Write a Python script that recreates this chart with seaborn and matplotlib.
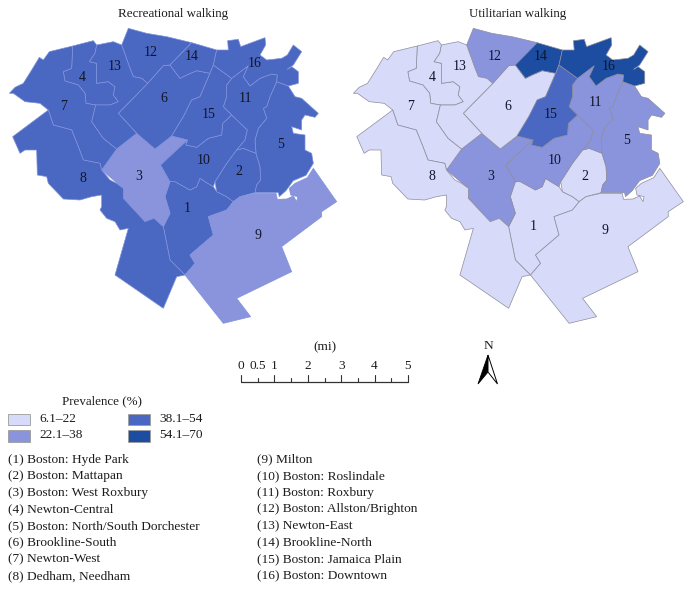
import numpy as np
import matplotlib
matplotlib.use("Agg")
import matplotlib.pyplot as plt
from matplotlib.patches import Polygon, Rectangle
import seaborn as sns

# ─────────────────────────────────────────────
# DATA
# ─────────────────────────────────────────────
# neighbourhood outlines (3x scale)
R1 = [(510,545),(525,545),(570,570),(590,560),(600,535),(615,545),(640,560),(650,575),(680,590),(700,605),(680,630),(625,650),(640,705),(570,765),(585,790),(555,825),(510,780),(490,680),(510,640),(495,590)]
R2 = [(710,450),(730,445),(768,460),(780,500),(782,540),(770,555),(765,578),(720,590),(700,605),(680,590),(650,575),(645,545),(680,490)]
R3 = [(410,400),(465,447),(515,408),(563,420),(530,450),(482,495),(510,545),(495,590),(510,640),(490,680),(462,655),(435,665),(370,595),(370,565),(305,510),(350,447)]
R4 = [(218,138),(280,122),(290,135),(285,160),(268,185),(290,190),(290,250),(325,245),(345,260),(340,285),(355,305),(330,315),(287,315),(258,310),(255,280),(235,255),(195,243),(190,215),(215,205)]
R5 = [(830,245),(810,290),(800,320),(790,325),(800,355),(775,385),(765,420),(768,460),(780,500),(782,540),(770,555),(765,578),(835,578),(838,590),(858,572),(880,542),(918,526),(940,490),(935,460),(915,450),(915,405),(880,400),(875,380),(905,390),(905,360),(915,345),(945,352),(955,340),(905,295),(885,290),(865,258)]
R6 = [(510,195),(540,235),(560,225),(590,212),(630,220),(600,290),(575,300),(550,350),(515,408),(465,447),(410,400),(355,340),(443,250),(490,197)]
R7 = [(28,280),(45,262),(70,250),(95,210),(118,172),(130,180),(148,155),(218,138),(215,205),(190,215),(195,243),(235,255),(255,280),(258,310),(287,315),(275,365),(310,415),(350,447),(305,510),(300,490),(250,480),(235,440),(215,390),(160,375),(145,330),(120,310),(75,305),(40,280)]
R8 = [(145,330),(38,410),(60,460),(75,450),(110,450),(112,525),(140,530),(145,550),(190,597),(240,600),(275,590),(305,585),(305,620),(300,630),(320,655),(345,665),(360,690),(385,685),(345,825),(490,925),(530,830),(555,825),(510,780),(490,680),(462,655),(435,665),(370,595),(370,565),(350,550),(330,540),(305,510),(300,490),(250,480),(235,440),(215,390),(160,375)]
R9 = [(765,580),(828,580),(832,598),(860,597),(880,588),(890,605),(893,590),(872,585),(868,565),(885,550),(922,533),(940,505),(1010,605),(965,635),(965,650),(845,740),(875,815),(710,895),(752,950),(670,970),(555,825),(585,790),(570,765),(640,705),(625,650),(680,630),(700,605),(720,590)]
R10 = [(563,420),(558,435),(590,442),(625,415),(665,405),(668,370),(695,345),(742,390),(735,420),(710,450),(680,490),(645,545),(640,560),(615,545),(600,535),(590,560),(570,570),(525,545),(510,545),(482,495),(530,450)]
R11 = [(695,235),(745,197),(730,230),(750,258),(780,235),(815,222),(832,225),(830,245),(810,290),(800,320),(790,325),(800,355),(775,385),(765,420),(768,460),(730,445),(710,450),(735,420),(742,390),(695,345),(670,320),(680,290),(680,255)]
R12 = [(385,85),(440,100),(500,110),(575,128),(510,195),(490,197),(443,250),(425,235),(400,230),(390,205),(365,135)]
R13 = [(290,135),(340,125),(365,135),(390,205),(400,230),(425,235),(443,250),(355,340),(410,400),(350,447),(310,415),(275,365),(287,315),(330,315),(355,305),(340,285),(345,260),(325,245),(290,250),(290,190),(268,185),(285,160)]
R14 = [(575,128),(650,150),(640,195),(630,220),(590,212),(560,225),(540,235),(510,195)]
R15 = [(640,195),(695,235),(680,255),(680,290),(670,320),(695,345),(668,370),(665,405),(625,415),(590,442),(558,435),(563,420),(515,408),(550,350),(575,300),(600,290),(630,220)]
R16 = [(650,150),(685,150),(683,122),(715,118),(722,140),(795,113),(797,135),(780,165),(800,180),(845,175),(862,165),(880,135),(905,155),(880,195),(862,208),(875,200),(895,215),(895,250),(865,258),(830,245),(832,225),(815,222),(780,235),(750,258),(730,230),(745,197),(695,235),(640,195)]
regions = [R1,R2,R3,R4,R5,R6,R7,R8,R9,R10,R11,R12,R13,R14,R15,R16]

# prevalence class (0-3) of each neighbourhood, in order 1..16
recreational_class = [2,2,1,2,2,2,2,2,1,2,2,2,2,2,2,2]
utilitarian_class  = [0,0,1,0,1,0,0,0,0,1,1,1,0,3,2,3]

# label spots (3x scale, each map's own crop)
rec_label_x = [563,717,417,248,842,490,190,248,773,610,737,453,345,575,625,765]
rec_label_y = [625,515,530,232,432,296,320,537,707,482,296,157,200,170,342,190]
uti_label_x = [565,720,437,262,845,488,198,262,780,628,752,448,345,588,617,790]
uti_label_y = [680,530,530,232,422,320,320,530,690,482,307,170,200,170,342,200]

class_colors = ["#D7DAF8", "#8A94DD", "#4A67C1", "#1C4DA1"]
class_labels = ["6.1–22", "22.1–38", "38.1–54", "54.1–70"]

names_left = ["(1) Boston: Hyde Park", "(2) Boston: Mattapan", "(3) Boston: West Roxbury",
              "(4) Newton-Central", "(5) Boston: North/South Dorchester", "(6) Brookline-South",
              "(7) Newton-West", "(8) Dedham, Needham"]
names_right = ["(9) Milton", "(10) Boston: Roslindale", "(11) Boston: Roxbury",
               "(12) Boston: Allston/Brighton", "(13) Newton-East", "(14) Brookline-North",
               "(15) Boston: Jamaica Plain", "(16) Boston: Downtown"]

scale_ticks = [0, 0.5, 1, 1.5, 2, 2.5, 3, 3.5, 4, 4.5, 5]
scale_labels = ["0", "0.5", "1", "2", "3", "4", "5"]
scale_label_at = [0, 0.5, 1, 2, 3, 4, 5]

# ─────────────────────────────────────────────
# FIGURE
# ─────────────────────────────────────────────
sns.set_theme(style="white")
plt.rcParams["font.family"] = ["Liberation Serif", "DejaVu Serif"]
palette = sns.color_palette(class_colors)
TXT = "#1c1c1c"
FS = 9.6

fig = plt.figure(figsize=(6.93, 5.91), dpi=100)
ax = fig.add_axes([0, 0, 1, 1])
ax.set_xlim(0, 693)
ax.set_ylim(591, 0)
ax.axis("off")


def draw_map(classes, label_x, label_y, x0, xs, edge, lw, base):
    for pts, c in zip(regions, classes):
        pts = np.array(pts, dtype=float)
        # crop -> page pixels
        xy = np.column_stack([x0 + xs * pts[:, 0] / 3, pts[:, 1] / 3])
        ax.add_patch(Polygon(xy, closed=True, facecolor=palette[c], edgecolor=edge, linewidth=lw))
    for i, (lx, ly) in enumerate(zip(label_x, label_y)):
        ax.text(base + lx / 3, ly / 3, str(i + 1), ha="center", va="center",
                fontsize=10, color="#10152a")


draw_map(recreational_class, rec_label_x, rec_label_y, 0, 1.0, "#7f92dc", 0.5, 0)
draw_map(utilitarian_class, uti_label_x, uti_label_y, 344, 1.008, "#8d8d9c", 0.5, 345)

ax.text(173, 14, "Recreational walking", ha="center", va="center", fontsize=9.4, color=TXT)
ax.text(518, 14, "Utilitarian walking", ha="center", va="center", fontsize=9.4, color=TXT)

# scale bar
bar_x = lambda d: 241 + 33.4 * d
ax.plot([bar_x(0), bar_x(5)], [382, 382], color="#333333", lw=0.9)
for t in scale_ticks:
    ax.plot([bar_x(t), bar_x(t)], [382, 375 if float(t).is_integer() else 378], color="#333333", lw=0.8)
for t, lab in zip(scale_label_at, scale_labels):
    ax.text(bar_x(t), 366, lab, ha="center", va="center", fontsize=FS, color=TXT)
ax.text(325, 347, "(mi)", ha="center", va="center", fontsize=FS, color=TXT)

# north arrow
ax.text(488, 346, "N", ha="center", va="center", fontsize=FS, color=TXT)
ax.add_patch(Polygon([(488, 355), (478, 384), (488, 372)], closed=True, facecolor="black", edgecolor="black", lw=0.6))
ax.add_patch(Polygon([(488, 355), (497.5, 384), (488, 372)], closed=True, facecolor="white", edgecolor="black", lw=0.7))

# legend
ax.text(102, 401, "Prevalence (%)", ha="center", va="center", fontsize=9.4, color=TXT)
swatches = [(8, 413.5), (8, 430), (128, 413.5), (128, 430)]
for (sx, sy), c, lab in zip(swatches, palette, class_labels):
    ax.add_patch(Rectangle((sx, sy), 22, 11.5, facecolor=c, edgecolor="#9c9c9c", lw=0.6))
    ax.text(sx + 31, sy + 5.5, lab, ha="left", va="center", fontsize=FS, color=TXT)

for i, (a, b) in enumerate(zip(names_left, names_right)):
    y = 459.5 + i * 16.65
    ax.text(8, y, a, ha="left", va="center", fontsize=FS, color=TXT)
    ax.text(257, y, b, ha="left", va="center", fontsize=FS, color=TXT)

fig.savefig("out.png", dpi=100)
